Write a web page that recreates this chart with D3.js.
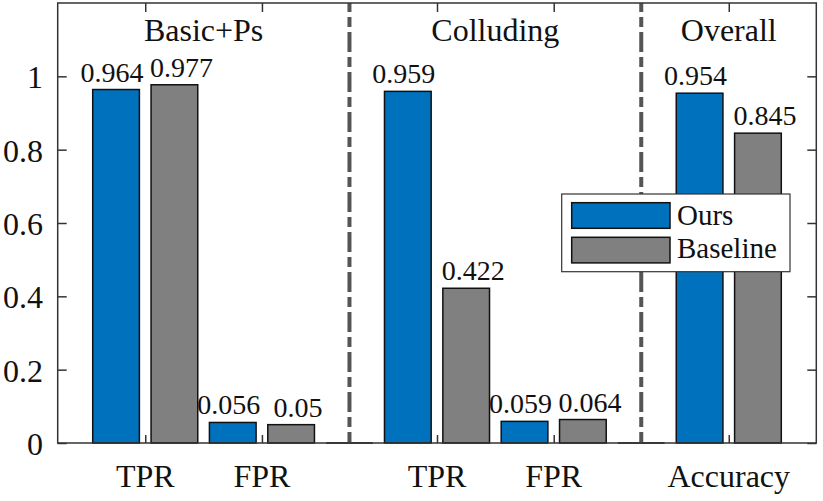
<!DOCTYPE html>
<html lang="en">
<head>
<meta charset="UTF-8">
<title>Ours vs Baseline</title>
<script src="https://cdnjs.cloudflare.com/ajax/libs/d3/7.8.5/d3.min.js"></script>
<style>
    body { margin: 0; background: #fff; }
    svg text { font-family: "Liberation Serif", "Times New Roman", serif; fill: #111; }
</style>
</head>
<body>
<svg id="chart"></svg>
<script>
// data
const categories = ["TPR", "FPR", "TPR", "FPR", "Accuracy"];
const positions = [1, 2, 3.5, 4.5, 6];
const ours = [0.964, 0.056, 0.959, 0.059, 0.954];
const baseline = [0.977, 0.05, 0.422, 0.064, 0.845];
const groupNames = ["Basic+Ps", "Colluding", "Overall"];
const groupCenters = [1.5, 4, 6];
const separators = [2.75, 5.25];
const yTicks = [0, 0.2, 0.4, 0.6, 0.8, 1];
const seriesNames = ["Ours", "Baseline"];
const seriesColors = ["#0072BD", "#808080"];

const W = 823, H = 501;
const plotLeft = 57.7, plotRight = 816.3, plotTop = 3, plotBottom = 443;

const svg = d3.select("#chart").attr("width", W).attr("height", H);

const x = d3.scaleLinear().domain([0.25, 6.75]).range([plotLeft, plotRight]);
const y = d3.scaleLinear().domain([0, 1.2]).range([plotBottom, plotTop]);

const barW = x(0.4) - x(0);
const offset = x(0.25) - x(0);

const series = [ours, baseline];
const labelShift = [-4, 7];

// bars
series.forEach((vals, s) => {
    const g = svg.append("g");
    const rows = vals.map((v, i) => ({v: v, p: positions[i]}));
    const cx = d => x(d.p) + (s === 0 ? -offset : offset);
    g.selectAll("rect")
        .data(rows)
        .enter()
        .append("rect")
        .attr("x", d => cx(d) - barW / 2)
        .attr("y", d => y(d.v))
        .attr("width", barW)
        .attr("height", d => y(0) - y(d.v))
        .attr("fill", seriesColors[s])
        .attr("stroke", "#111")
        .attr("stroke-width", 1.5);
    g.selectAll("text")
        .data(rows)
        .enter()
        .append("text")
        .attr("x", d => cx(d) + labelShift[s])
        .attr("y", d => y(d.v) - 8)
        .attr("text-anchor", "middle")
        .style("font-size", "28px")
        .text(d => d.v);
});

// empty separator slots (zero height bars)
svg.selectAll(".gap")
    .data(separators)
    .enter()
    .append("line")
    .attr("x1", d => x(d) - barW / 2)
    .attr("x2", d => x(d) + barW / 2)
    .attr("y1", y(0))
    .attr("y2", y(0))
    .attr("stroke", "#111")
    .attr("stroke-width", 1.5);

// dash-dot separators
svg.selectAll(".sep")
    .data(separators)
    .enter()
    .append("line")
    .attr("x1", d => x(d))
    .attr("x2", d => x(d))
    .attr("y1", y(1.2))
    .attr("y2", y(0))
    .attr("stroke", "#555")
    .attr("stroke-width", 4)
    .attr("stroke-dasharray", "20,5,10,5")
    .attr("stroke-dashoffset", 11);

// axes box and ticks
const axisColor = "#333";
svg.append("rect")
    .attr("x", plotLeft).attr("y", plotTop)
    .attr("width", plotRight - plotLeft).attr("height", plotBottom - plotTop)
    .attr("fill", "none")
    .attr("stroke", axisColor)
    .attr("stroke-width", 1.5);

const yAxisL = d3.axisLeft(y).tickValues(yTicks).tickSize(-9).tickFormat("");
const yAxisR = d3.axisRight(y).tickValues(yTicks).tickSize(-9).tickFormat("");
const xAxisB = d3.axisBottom(x).tickValues(positions).tickSize(-8).tickFormat("");
const xAxisT = d3.axisTop(x).tickValues(positions).tickSize(-9).tickFormat("");

[[yAxisL, `translate(${plotLeft},0)`], [yAxisR, `translate(${plotRight},0)`],
 [xAxisB, `translate(0,${plotBottom})`], [xAxisT, `translate(0,${plotTop})`]].forEach(([ax, tr]) => {
    const g = svg.append("g").attr("transform", tr).call(ax);
    g.select(".domain").remove();
    g.selectAll(".tick line").attr("stroke", axisColor).attr("stroke-width", 1.5);
});

// y tick labels
svg.selectAll(".ylab")
    .data(yTicks)
    .enter()
    .append("text")
    .attr("x", 43)
    .attr("y", d => y(d))
    .attr("dy", "0.38em")
    .attr("text-anchor", "end")
    .style("font-size", "32px")
    .text(d => d3.format("~g")(d));

// x tick labels
svg.selectAll(".xlab")
    .data(categories)
    .enter()
    .append("text")
    .attr("x", (d, i) => x(positions[i]))
    .attr("y", 487)
    .attr("text-anchor", "middle")
    .style("font-size", "32px")
    .text(d => d);

// group titles
svg.selectAll(".grp")
    .data(groupNames)
    .enter()
    .append("text")
    .attr("x", (d, i) => x(groupCenters[i]))
    .attr("y", 41)
    .attr("text-anchor", "middle")
    .style("font-size", "32px")
    .text(d => d);

// legend
const lg = svg.append("g");
lg.append("rect")
    .attr("x", 561.7).attr("y", 194)
    .attr("width", 228.3).attr("height", 77.7)
    .attr("fill", "#fff")
    .attr("stroke", "#333")
    .attr("stroke-width", 1.2);
seriesNames.forEach((name, i) => {
    lg.append("rect")
        .attr("x", 571.7).attr("y", 202.7 + i * 34.6)
        .attr("width", 98.3).attr("height", 25.6)
        .attr("fill", seriesColors[i])
        .attr("stroke", "#111")
        .attr("stroke-width", 1.5);
    lg.append("text")
        .attr("x", 677)
        .attr("y", 225 + i * 33.3)
        .style("font-size", "29px")
        .text(name);
});
</script>
</body>
</html>
